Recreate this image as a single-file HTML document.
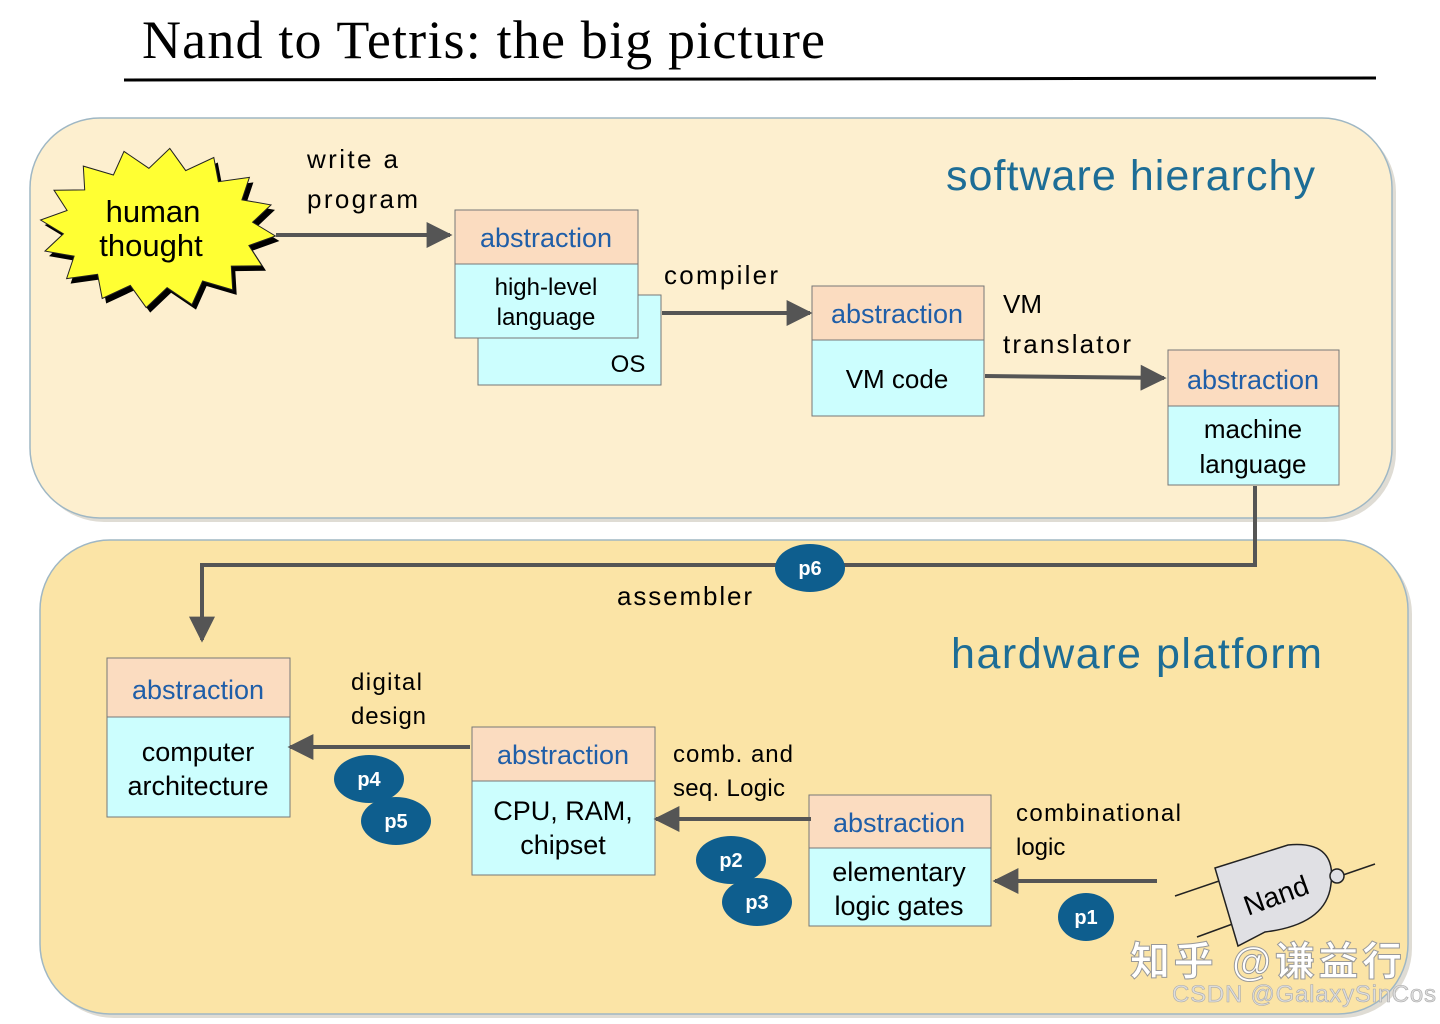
<!DOCTYPE html>
<html><head><meta charset="utf-8"><style>
body{margin:0;background:#fff;width:1440px;height:1019px;overflow:hidden}
svg text{font-family:"Liberation Sans",sans-serif}
</style></head><body>
<svg width="1440" height="1019" viewBox="0 0 1440 1019" xmlns="http://www.w3.org/2000/svg">
<defs>
<marker id="a" viewBox="0 0 10 10" refX="9" refY="5" markerWidth="26" markerHeight="26" orient="auto" markerUnits="userSpaceOnUse"><path d="M0,0 L10,5 L0,10z" fill="#555"/></marker>
</defs>
<text x="142" y="58" font-size="54" fill="#000" textLength="683" style="font-family:'Liberation Serif',serif">Nand to Tetris: the big picture</text>
<line x1="124" y1="80" x2="1376" y2="78" stroke="#000" stroke-width="3"/>
<rect x="34" y="122" width="1362" height="400" rx="70" fill="#c9c4b8" opacity="0.6"/>
<rect x="30" y="118" width="1362" height="400" rx="70" fill="#fdefcf" stroke="#9fb7c4" stroke-width="1.5"/>
<rect x="44" y="544" width="1368" height="474" rx="70" fill="#c9c4b8" opacity="0.6"/>
<rect x="40" y="540" width="1368" height="474" rx="70" fill="#fbe4a6" stroke="#9fb7c4" stroke-width="1.5"/>
<polygon id="sb2" fill="#000" transform="translate(4,5)"/>
<polygon id="sb" fill="#ffff33" stroke="#222" stroke-width="1"/>
<text x="153" y="222" font-size="31" text-anchor="middle">human</text>
<text x="151" y="256" font-size="31" text-anchor="middle">thought</text>
<text x="307" y="168" font-size="26" textLength="91">write a</text>
<text x="307" y="208" font-size="26" textLength="111">program</text>
<line x1="276" y1="235" x2="450" y2="235" stroke="#555" stroke-width="4" marker-end="url(#a)"/>
<text x="946" y="190" font-size="43" fill="#1d6d96" textLength="369">software hierarchy</text>
<text x="951" y="668" font-size="43" fill="#1d6d96" textLength="371">hardware platform</text>
<g stroke="#777" stroke-width="1">
<rect x="478" y="295" width="183" height="90" fill="#ccfefe"/>
<rect x="455" y="210" width="183" height="54" fill="#fbdcc0"/>
<rect x="455" y="264" width="183" height="74" fill="#ccfefe"/>
<rect x="812" y="286" width="172" height="54" fill="#fbdcc0"/>
<rect x="812" y="340" width="172" height="76" fill="#ccfefe"/>
<rect x="1168" y="350" width="171" height="56" fill="#fbdcc0"/>
<rect x="1168" y="406" width="171" height="79" fill="#ccfefe"/>
<rect x="107" y="658" width="183" height="59" fill="#fbdcc0"/>
<rect x="107" y="717" width="183" height="100" fill="#ccfefe"/>
<rect x="472" y="727" width="183" height="54" fill="#fbdcc0"/>
<rect x="472" y="781" width="183" height="94" fill="#ccfefe"/>
<rect x="809" y="795" width="182" height="53" fill="#fbdcc0"/>
<rect x="809" y="848" width="182" height="78" fill="#ccfefe"/>
</g>
<g font-size="27" fill="#1f5ea8" text-anchor="middle">
<text x="546" y="247">abstraction</text>
<text x="897" y="323">abstraction</text>
<text x="1253" y="389">abstraction</text>
<text x="198" y="699">abstraction</text>
<text x="563" y="764">abstraction</text>
<text x="899" y="832">abstraction</text>
</g>
<g font-size="24" text-anchor="middle">
<text x="546" y="295">high-level</text>
<text x="546" y="325">language</text>
<text x="628" y="372">OS</text>
<text x="897" y="388" font-size="26">VM code</text>
<text x="1253" y="438" font-size="26">machine</text>
<text x="1253" y="473" font-size="26">language</text>
<text x="198" y="761" font-size="27">computer</text>
<text x="198" y="795" font-size="27">architecture</text>
<text x="563" y="820" font-size="27">CPU, RAM,</text>
<text x="563" y="854" font-size="27">chipset</text>
<text x="899" y="881" font-size="27">elementary</text>
<text x="899" y="915" font-size="27">logic gates</text>
</g>
<g font-size="26">
<text x="664" y="284" textLength="114">compiler</text>
<text x="1003" y="313">VM</text>
<text x="1003" y="353" textLength="128">translator</text>
<text x="617" y="605" textLength="135">assembler</text>
<text x="351" y="690" font-size="24" textLength="71">digital</text>
<text x="351" y="724" font-size="24" textLength="75">design</text>
<text x="673" y="762" font-size="24" textLength="120">comb. and</text>
<text x="673" y="796" font-size="24" textLength="112">seq. Logic</text>
<text x="1016" y="821" font-size="24" textLength="165">combinational</text>
<text x="1016" y="855" font-size="24">logic</text>
</g>
<g stroke="#555" stroke-width="4" fill="none">
<line x1="662" y1="313" x2="810" y2="313" marker-end="url(#a)"/>
<line x1="985" y1="376" x2="1164" y2="378" marker-end="url(#a)"/>
<polyline points="1255,486 1255,565 202,565 202,640" marker-end="url(#a)"/>
<line x1="470" y1="747" x2="290" y2="747" marker-end="url(#a)"/>
<line x1="811" y1="819" x2="656" y2="819" marker-end="url(#a)"/>
<line x1="1157" y1="881" x2="995" y2="881" marker-end="url(#a)"/>
</g>
<g fill="#0e5e8e">
<ellipse cx="810" cy="568" rx="35" ry="24"/>
<ellipse cx="369" cy="779" rx="35" ry="24"/>
<ellipse cx="396" cy="821" rx="35" ry="24"/>
<ellipse cx="731" cy="860" rx="35" ry="24"/>
<ellipse cx="757" cy="902" rx="35" ry="24"/>
<ellipse cx="1086" cy="917" rx="28" ry="24"/>
</g>
<g fill="#fff" font-size="20" font-weight="bold" text-anchor="middle">
<text x="810" y="575">p6</text><text x="369" y="786">p4</text><text x="396" y="828">p5</text>
<text x="731" y="867">p2</text><text x="757" y="909">p3</text><text x="1086" y="924">p1</text>
</g>
<g stroke="#222" stroke-width="1.5">
<line x1="1175" y1="896" x2="1222" y2="880"/>
<line x1="1197" y1="937" x2="1238" y2="922"/>
<line x1="1343" y1="875" x2="1375" y2="864"/>
<path d="M1215,868 L1288,845 Q1340,840 1330,890 Q1322,925 1265,932 L1238,946 Z" fill="#e0e0e4"/>
<circle cx="1337" cy="876" r="7" fill="#e0e0e4"/>
</g>
<text x="1276" y="905" font-size="28" text-anchor="middle" transform="rotate(-20 1276 895)">Nand</text>
<text x="1130" y="975" font-size="40" fill="#fff" stroke="#999" stroke-width="1" font-weight="bold" textLength="272" style="font-family:'Liberation Sans','Noto Sans CJK SC',sans-serif">知乎 @谦益行</text>
<text x="1172" y="1002" font-size="24" fill="#ddd" stroke="#aaa" stroke-width="0.6" textLength="264">CSDN @GalaxySinCos</text>
</svg>
<script>
(function(){var cx=158,cy=228,n=16,p=[];for(var i=0;i<2*n;i++){var a=Math.PI*i/n-Math.PI/2+0.1;var o=i%2==0;var rx=o?118:95,ry=o?80:60;p.push((cx+rx*Math.cos(a)).toFixed(1)+','+(cy+ry*Math.sin(a)).toFixed(1));}
var s=p.join(' ');document.getElementById('sb').setAttribute('points',s);document.getElementById('sb2').setAttribute('points',s);})();
</script>
</body></html>
